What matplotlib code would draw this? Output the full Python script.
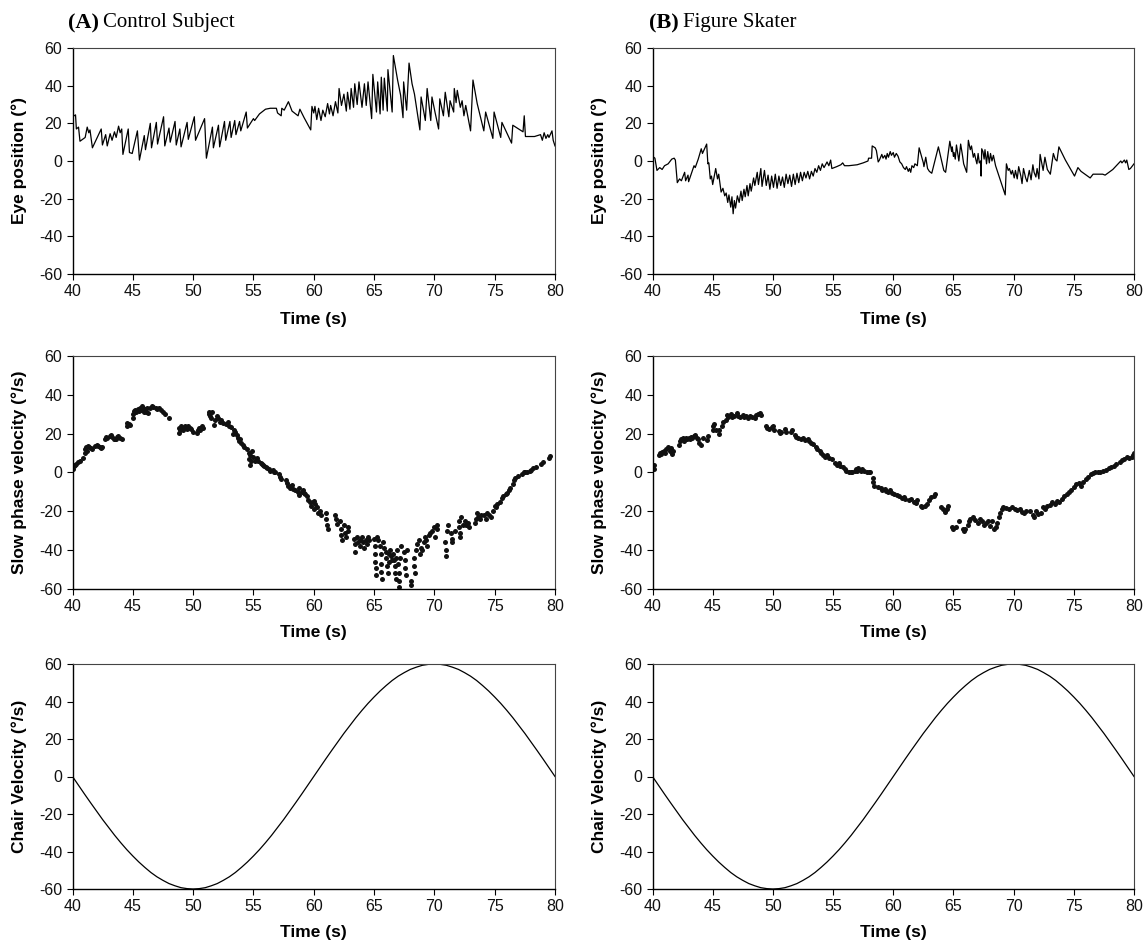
import matplotlib
matplotlib.use('Agg')
import matplotlib.pyplot as plt

plt.rcParams['font.family'] = ['Liberation Sans', 'DejaVu Sans']
plt.rcParams['axes.unicode_minus'] = False

# ---------------- data ----------------
x_ticks = [40, 45, 50, 55, 60, 65, 70, 75, 80]
y_ticks = [-60, -40, -20, 0, 20, 40, 60]

panel_titles = [("(A)", "Control Subject"), ("(B)", "Figure Skater")]
y_labels = ["Eye position (\u00b0)", "Slow phase velocity (\u00b0/s)", "Chair Velocity (\u00b0/s)"]
x_label = "Time (s)"

# Eye position, control subject (time s, degrees)
eye_a = [(40.0, 23.5), (40.25, 24.5), (40.32, 17), (40.5, 18), (40.62, 10.5), (41.05, 12.5),
         (41.22, 18), (41.35, 15), (41.45, 16.5), (41.65, 7), (42.38, 17), (42.48, 8.5),
         (42.75, 14), (42.88, 8), (43.12, 14.5), (43.28, 11), (43.48, 15.5), (43.62, 12.5),
         (43.82, 18.5), (43.95, 15), (44.08, 17), (44.18, 3.5), (44.62, 17), (44.72, 4.5),
         (44.95, 4), (45.38, 16), (45.55, 0.5), (45.95, 13.5), (46.05, 6), (46.45, 20),
         (46.55, 7), (46.95, 20.5), (47.05, 9), (47.55, 23.5), (47.65, 8), (48.0, 17.5),
         (48.1, 10), (48.5, 21), (48.6, 8.5), (48.9, 17), (49.0, 7.5), (49.5, 20.5),
         (49.6, 11.5), (50.1, 23.5), (50.2, 11), (50.95, 22.5), (51.1, 1.5), (51.6, 18),
         (51.68, 7), (52.1, 19), (52.2, 7.5), (52.6, 21), (52.7, 11), (53.05, 21),
         (53.15, 12.5), (53.45, 21.5), (53.55, 14), (53.85, 21), (53.95, 16), (54.4, 26),
         (54.5, 17.5), (55.0, 22.5), (55.1, 21.5), (55.5, 25), (56.0, 27.5), (56.4, 28),
         (56.9, 28), (57.0, 25.5), (57.3, 24), (57.35, 28), (57.55, 27), (57.9, 31.5),
         (58.2, 26.5), (58.5, 25), (58.7, 24), (58.85, 27.5), (59.2, 23), (59.75, 16.5),
         (59.85, 29), (60.0, 25.5), (60.1, 29), (60.25, 22), (60.4, 28), (60.6, 21.5),
         (60.75, 27), (60.95, 23.5), (61.15, 30.5), (61.3, 25), (61.4, 29.5), (61.6, 24),
         (61.8, 31.5), (62.0, 25.5), (62.1, 38.5), (62.3, 29.5), (62.5, 35.5), (62.7, 26.5),
         (62.8, 36.5), (63.0, 27.5), (63.1, 38.5), (63.3, 28.5), (63.4, 41), (63.6, 30),
         (63.75, 42), (64.0, 28.5), (64.2, 41), (64.35, 29.5), (64.5, 42), (64.8, 22.5),
         (64.9, 46), (65.2, 26), (65.3, 42), (65.5, 25), (65.6, 44.5), (65.75, 27),
         (65.85, 44), (66.1, 26.5), (66.15, 48.5), (66.5, 26), (66.6, 56), (66.95, 43),
         (67.2, 35), (67.4, 23), (67.45, 42), (67.7, 27), (67.9, 52), (68.15, 41),
         (68.35, 35.5), (68.8, 16.5), (68.9, 34), (69.25, 21.5), (69.4, 38.5), (69.7, 21.5),
         (69.8, 34), (70.05, 26), (70.35, 17), (70.45, 33), (70.75, 24), (70.9, 36.5),
         (71.2, 23.5), (71.3, 32), (71.6, 26), (71.65, 38.5), (71.8, 31), (71.9, 37.5),
         (72.15, 28.5), (72.3, 32), (72.45, 24), (72.6, 29.5), (73.0, 16), (73.2, 43),
         (73.55, 30.5), (74.1, 16), (74.25, 26), (74.85, 12), (74.95, 26), (75.5, 12.5),
         (75.6, 20.5), (76.4, 9.5), (76.5, 19), (77.35, 15.5), (77.45, 24), (77.55, 13),
         (78.3, 13), (78.8, 14), (78.95, 11), (79.1, 15), (79.25, 12), (79.4, 14),
         (79.5, 12.5), (79.75, 16), (79.85, 11), (80.0, 8)]

# Eye position, figure skater
eye_b = [(40.0, 2.5), (40.2, 1.5), (40.37, -5), (40.6, -3.5), (40.8, -4.5), (41.0, -2.5),
         (41.3, -1.5), (41.6, 1), (41.8, 1.5), (41.9, 0.5), (42.06, -11.5), (42.25, -9.5),
         (42.4, -10.5), (42.67, -6), (42.75, -10.5), (42.95, -7.5), (43.0, -11), (43.45, -2.5),
         (43.55, -3.5), (43.8, 1), (44.05, 6.5), (44.15, 4), (44.5, 9), (44.6, -1.5),
         (44.68, -1), (44.8, -9.5), (44.9, -8), (45.0, -12.5), (45.25, -4), (45.4, -9.5),
         (45.5, -7), (45.7, -16.5), (45.85, -14.5), (46.0, -18.5), (46.12, -17), (46.25, -22),
         (46.35, -18), (46.5, -24.5), (46.6, -19), (46.7, -28), (46.8, -21), (46.9, -25),
         (47.05, -18.5), (47.2, -22), (47.35, -16), (47.45, -21), (47.6, -15), (47.7, -19),
         (47.85, -13), (47.95, -18.5), (48.1, -12), (48.2, -16), (48.4, -9), (48.5, -13),
         (48.7, -6), (48.8, -12.5), (49.0, -4), (49.1, -13.5), (49.3, -5), (49.45, -13),
         (49.6, -7.5), (49.75, -15), (49.9, -8), (50.05, -14), (50.2, -7), (50.35, -14.5),
         (50.5, -8), (50.65, -13), (50.8, -8.5), (50.95, -14), (51.1, -7), (51.25, -12),
         (51.4, -7.5), (51.55, -13.5), (51.7, -7), (51.85, -12.5), (52.0, -6.5), (52.15, -11.5),
         (52.3, -6), (52.45, -10.5), (52.6, -6), (52.75, -9), (52.9, -5.5), (53.05, -9.5),
         (53.2, -5.5), (53.35, -8), (53.5, -4), (53.65, -6), (53.8, -2.5), (53.95, -5),
         (54.1, -1.5), (54.25, -3.5), (54.5, -0.5), (54.65, -2.5), (54.8, 0.5), (54.9, -4),
         (55.3, -3), (55.65, -2), (55.8, -1), (55.95, -2.5), (56.3, -2.5), (57.0, -2),
         (57.5, -1), (57.9, 0), (57.95, 1.5), (58.2, 1.5), (58.25, 8), (58.5, 7),
         (58.6, 5.5), (58.75, -0.5), (58.85, 0.5), (58.95, 2), (59.05, 3.5), (59.15, 1.5),
         (59.3, 3), (59.4, 1), (59.5, 4), (59.6, 2), (59.75, 5), (59.85, 3), (60.0, 4.5),
         (60.1, 2), (60.25, 4), (60.4, 2.5), (60.55, -0.5), (60.7, -1.5), (60.85, -3.5),
         (61.0, -4.5), (61.1, -3), (61.25, -5.5), (61.35, -4), (61.45, -6), (61.55, -2.5),
         (61.7, -3.5), (61.8, -1.5), (62.0, -2.5), (62.15, 7), (62.5, -1), (62.55, -3),
         (62.7, 2), (62.85, -4), (63.0, -5.5), (63.2, -6.5), (63.75, 7.5), (64.2, -5),
         (64.35, -6), (64.7, 10.5), (64.85, 5), (64.9, 7.5), (65.0, 2.5), (65.05, 4.5),
         (65.15, 1), (65.25, 8.5), (65.45, 0), (65.6, 9), (65.75, 3), (65.85, -1.5),
         (66.1, -6), (66.24, 11), (66.4, 6), (66.5, 8), (66.65, 2), (66.75, 4),
         (66.85, 1), (66.95, -1.5), (67.05, 4), (67.15, -1), (67.25, 0), (67.3, -8),
         (67.35, 6.5), (67.45, 5), (67.55, 1), (67.62, 6), (67.75, -1.5), (67.85, 5),
         (67.98, -1), (68.08, 4), (68.2, 0), (68.32, 3), (68.5, -2.5), (69.3, -18),
         (69.4, -1.5), (69.55, -5), (69.65, -4), (69.8, -7), (69.9, -5), (70.05, -9),
         (70.15, -5), (70.3, -9.5), (70.42, -3), (70.6, -8), (70.7, -12), (70.82, -4),
         (71.0, -9), (71.12, -11), (71.3, -5), (71.45, -10), (71.6, -2), (71.7, -6),
         (71.85, -8.5), (71.95, -4), (72.1, -9.5), (72.2, 3.5), (72.45, -5), (72.6, 2),
         (72.8, -4.5), (73.05, -7), (73.3, 4), (73.45, 1), (73.6, 0), (73.76, 7.5),
         (74.3, 0.5), (75.06, -8), (75.34, -3.5), (75.6, -5.5), (76.36, -9), (76.6, -7),
         (77.0, -7), (77.4, -7), (77.6, -7.5), (78.24, -4.5), (78.9, 0), (79.0, -1),
         (79.2, 0.5), (79.3, -1), (79.4, 0.5), (79.57, -4.5), (79.7, -4), (80.0, -1.5)]

# Slow phase velocity, control subject (time s, deg/s)
spv_a = [(40.0, 2), (40.1, 3.5), (40.2, 4), (40.3, 4.5), (40.45, 5.5), (40.6, 6), (40.9, 7.5),
         (41.0, 10), (41.05, 12), (41.1, 13), (41.2, 11), (41.3, 13.5), (41.4, 13), (41.55, 12.5),
         (41.65, 12), (41.9, 13.5), (42.0, 14), (42.1, 13.5), (42.25, 13), (42.35, 12.5),
         (42.45, 13), (42.7, 17.5), (42.8, 18.5), (42.9, 18), (43.1, 19), (43.2, 19.5),
         (43.3, 18.5), (43.4, 17.5), (43.5, 17), (43.6, 17.5), (43.7, 18.5), (43.8, 19),
         (43.9, 18), (44.1, 17), (44.5, 24), (44.55, 25.5), (44.65, 25), (44.75, 24.5),
         (45.0, 28), (45.05, 30), (45.1, 31.5), (45.2, 32), (45.3, 31), (45.4, 32.5),
         (45.5, 31.5), (45.6, 33), (45.7, 32), (45.8, 34.5), (45.85, 33), (45.95, 31),
         (46.0, 32.5), (46.1, 31), (46.2, 33), (46.3, 30.5), (46.4, 33), (46.6, 34),
         (46.7, 33.5), (46.9, 33), (47.0, 32.5), (47.2, 33), (47.35, 32), (47.5, 31),
         (47.7, 30), (48.0, 28), (48.8, 23), (48.85, 20.5), (48.9, 22), (49.0, 24),
         (49.1, 23), (49.2, 22), (49.3, 24), (49.4, 23), (49.5, 22.5), (49.6, 24),
         (49.7, 23), (49.85, 22.5), (50.0, 21), (50.3, 20.5), (50.4, 22), (50.5, 23),
         (50.6, 22), (50.7, 24), (50.8, 23), (51.3, 31), (51.35, 30), (51.4, 29), (51.5, 28),
         (51.55, 31), (51.7, 24.5), (51.8, 27), (52.0, 29), (52.1, 28), (52.2, 26),
         (52.3, 27), (52.45, 25.5), (52.7, 25), (52.9, 26), (53.0, 24), (53.1, 23.5),
         (53.3, 20), (53.4, 22), (53.5, 21), (53.6, 19.5), (53.7, 18), (53.8, 16),
         (53.9, 17), (54.0, 15), (54.1, 14), (54.2, 13), (54.5, 12), (54.6, 10), (54.65, 7),
         (54.7, 4), (54.75, 9), (54.8, 6), (54.9, 11), (55.0, 8), (55.1, 6), (55.3, 7.5),
         (55.4, 6), (55.6, 5), (55.7, 4.5), (55.8, 4), (55.9, 3.5), (56.0, 3), (56.1, 2.5),
         (56.3, 2), (56.4, 1), (56.6, 1.5), (56.7, 0), (56.8, 0.5), (57.1, -1), (57.2, -2.5),
         (57.3, -3.5), (57.7, -4), (57.8, -5.5), (57.9, -7), (58.0, -8), (58.1, -7),
         (58.2, -6.5), (58.3, -8.5), (58.45, -9), (58.7, -10), (58.75, -8), (58.8, -11.5),
         (59.0, -10), (59.1, -9), (59.2, -10.5), (59.3, -11), (59.45, -12), (59.5, -14),
         (59.7, -15), (59.8, -17), (59.9, -15), (60.0, -14.5), (60.05, -19), (60.1, -16),
         (60.3, -18), (60.35, -21), (60.5, -20), (60.6, -22), (61.0, -21), (61.05, -24),
         (61.1, -27), (61.15, -29), (61.8, -22), (61.85, -24), (61.9, -26.5), (62.2, -25),
         (62.25, -29), (62.3, -32), (62.35, -35), (62.5, -27), (62.6, -31), (62.7, -33),
         (62.8, -28), (62.85, -30), (63.35, -34), (63.4, -37), (63.45, -41), (63.6, -33),
         (63.65, -36), (63.8, -35), (63.85, -38), (64.0, -33), (64.1, -36), (64.15, -39),
         (64.3, -35), (64.4, -37), (64.5, -33), (64.55, -35), (65.0, -34), (65.05, -38),
         (65.1, -42), (65.1, -46), (65.15, -49), (65.15, -53), (65.25, -33), (65.3, -35),
         (65.5, -38), (65.55, -42), (65.6, -47), (65.6, -51), (65.65, -55), (65.7, -36),
         (65.8, -39), (65.95, -41), (66.0, -44), (66.1, -48), (66.15, -52), (66.2, -42),
         (66.25, -46), (66.3, -40), (66.4, -43), (66.45, -45), (66.6, -42), (66.65, -45),
         (66.7, -48), (66.75, -52), (66.8, -55), (66.85, -44), (66.9, -40), (67.0, -47),
         (67.05, -52), (67.05, -56), (67.1, -59), (67.15, -44), (67.2, -38), (67.5, -41),
         (67.55, -45), (67.6, -49), (67.65, -53), (67.7, -40), (68.05, -56), (68.05, -58),
         (68.3, -44), (68.35, -48), (68.4, -52), (68.5, -40), (68.6, -37), (68.7, -35),
         (68.8, -42), (68.9, -39), (69.0, -40), (69.1, -36), (69.2, -33), (69.3, -35),
         (69.4, -38), (69.55, -32), (69.6, -31), (69.8, -30), (70.0, -28), (70.05, -33),
         (70.2, -27), (70.25, -29), (70.9, -36), (70.95, -40), (71.0, -43), (71.05, -30),
         (71.1, -27), (71.4, -31), (71.45, -34), (71.5, -36), (71.7, -30), (72.0, -25),
         (72.05, -28), (72.1, -31), (72.15, -33), (72.2, -23), (72.35, -27), (72.5, -25),
         (72.6, -27), (72.8, -26), (72.9, -28), (73.4, -26), (73.45, -24), (73.5, -21),
         (73.6, -23), (73.8, -24), (73.9, -22), (74.1, -22), (74.3, -24), (74.4, -21),
         (74.5, -22), (74.7, -23), (74.9, -20), (75.0, -17), (75.1, -18), (75.2, -16),
         (75.4, -15), (75.6, -13), (75.7, -12), (75.9, -11), (76.0, -10.5), (76.2, -9),
         (76.3, -8), (76.5, -6), (76.6, -4), (76.7, -3), (76.9, -2), (77.3, -1), (77.4, 0),
         (77.5, 0.5), (77.7, 0), (77.9, 1), (78.0, 1.5), (78.2, 2.5), (78.4, 3), (78.8, 4.5),
         (79.0, 5.5), (79.5, 7.5), (79.55, 8.5)]

# Slow phase velocity, figure skater
spv_b = [(40.05, 2.5), (40.1, 4), (40.15, 2), (40.5, 9), (40.6, 10), (40.7, 9.5), (40.8, 10.5),
         (40.95, 11), (41.05, 10), (41.15, 12), (41.3, 13), (41.45, 11), (41.55, 12.5),
         (41.65, 9.5), (41.7, 11), (42.2, 14), (42.25, 16), (42.4, 17.5), (42.5, 18),
         (42.6, 16), (42.7, 17.5), (42.8, 18), (42.9, 17), (43.0, 18), (43.1, 17.5),
         (43.2, 18.5), (43.3, 18), (43.45, 19), (43.55, 19.5), (43.7, 18), (43.8, 17),
         (43.9, 15), (44.0, 14), (44.2, 18), (44.55, 16.5), (44.6, 19), (45.0, 22),
         (45.05, 24), (45.1, 25), (45.25, 22), (45.5, 20), (45.55, 22), (45.8, 24),
         (45.85, 26), (46.1, 27), (46.2, 29.5), (46.3, 28.5), (46.5, 30), (46.6, 28.5),
         (46.8, 29), (47.0, 30.5), (47.1, 29), (47.3, 28.5), (47.5, 29.5), (47.6, 28.5),
         (47.8, 29), (47.9, 28), (48.1, 29), (48.3, 28.5), (48.5, 28), (48.6, 29.5),
         (48.8, 30), (48.9, 30.5), (49.0, 29.5), (49.4, 24), (49.5, 23), (49.7, 22.5),
         (49.9, 23.5), (50.0, 24), (50.1, 22), (50.5, 21.5), (50.6, 20.5), (50.7, 21),
         (51.0, 22.5), (51.1, 21), (51.5, 21), (51.6, 22), (51.8, 19.5), (51.9, 18.5),
         (52.1, 18), (52.3, 17.5), (52.5, 18), (52.7, 16.5), (52.9, 17), (53.0, 16),
         (53.2, 15), (53.3, 14.5), (53.6, 13), (53.7, 12), (53.9, 11), (54.0, 10),
         (54.2, 9), (54.3, 8), (54.5, 9), (54.7, 7.5), (54.9, 7), (55.2, 5), (55.3, 4),
         (55.5, 5), (55.6, 3.5), (55.8, 3), (56.0, 2), (56.1, 1), (56.3, 0.5), (56.5, 0),
         (56.6, 0.5), (56.8, 1), (56.9, 2), (57.0, 1), (57.1, 2.5), (57.3, 1), (57.4, 2),
         (57.6, 1), (57.8, 0.5), (58.0, 0), (58.1, 0), (58.3, -3), (58.35, -5), (58.4, -7),
         (58.7, -7.5), (59.0, -8), (59.1, -9), (59.3, -8.5), (59.4, -9.5), (59.6, -10),
         (59.7, -9), (59.9, -10.5), (60.1, -11), (60.3, -11.5), (60.5, -12), (60.7, -13),
         (60.9, -12.5), (61.0, -13.5), (61.3, -14), (61.5, -13.5), (61.7, -15), (61.9, -15.5),
         (62.0, -14), (62.3, -17), (62.4, -18), (62.6, -17.5), (62.8, -16), (63.0, -14),
         (63.1, -12.5), (63.4, -12), (63.5, -11), (64.0, -18), (64.1, -19), (64.3, -20.5),
         (64.5, -19), (64.55, -17), (64.9, -28), (65.0, -29), (65.2, -28), (65.5, -25),
         (65.8, -29), (65.9, -30), (66.0, -29), (66.2, -27), (66.3, -25), (66.4, -24),
         (66.6, -23), (66.8, -24.5), (67.0, -26), (67.2, -24), (67.4, -25), (67.5, -27),
         (67.7, -26), (67.9, -25), (68.0, -27.5), (68.2, -25), (68.4, -29), (68.5, -28),
         (68.6, -26), (68.8, -23), (68.9, -21), (69.0, -19), (69.1, -18), (69.4, -18.5),
         (69.6, -19), (69.9, -18), (70.1, -19), (70.3, -19.5), (70.5, -19), (70.7, -20.5),
         (70.9, -21), (71.0, -20), (71.4, -20), (71.6, -22), (71.7, -23), (71.9, -20),
         (72.0, -21.5), (72.3, -21), (72.4, -18), (72.6, -19), (72.8, -17), (73.0, -16.5),
         (73.2, -15), (73.4, -16), (73.6, -14.5), (73.8, -15), (74.0, -13.5), (74.2, -12),
         (74.4, -11), (74.6, -10), (74.8, -9), (75.0, -7.5), (75.2, -6), (75.4, -5.5),
         (75.6, -7), (75.8, -5), (76.0, -3.5), (76.2, -2.5), (76.4, -1), (76.6, -0.5),
         (76.8, 0), (77.0, 0), (77.2, 0.5), (77.4, 1), (77.7, 1.5), (77.9, 2.5), (78.1, 3),
         (78.3, 3.5), (78.5, 4.5), (78.8, 5.5), (79.0, 6.5), (79.2, 7), (79.4, 8), (79.6, 7.5),
         (79.8, 8), (79.9, 9), (80.0, 10)]

# Chair velocity (same stimulus for both), sampled every 0.5 s from 40 s to 80 s
chair_t = [40 + 0.5 * i for i in range(81)]
chair_v = [0, -4.7, -9.4, -14.0, -18.5, -23.0, -27.2, -31.4, -35.3, -39.0,
           -42.4, -45.6, -48.5, -51.2, -53.5, -55.4, -57.1, -58.3, -59.3, -59.8,
           -60, -59.8, -59.3, -58.3, -57.1, -55.4, -53.5, -51.2, -48.5, -45.6,
           -42.4, -39.0, -35.3, -31.4, -27.2, -23.0, -18.5, -14.0, -9.4, -4.7,
           0, 4.7, 9.4, 14.0, 18.5, 23.0, 27.2, 31.4, 35.3, 39.0,
           42.4, 45.6, 48.5, 51.2, 53.5, 55.4, 57.1, 58.3, 59.3, 59.8,
           60, 59.8, 59.3, 58.3, 57.1, 55.4, 53.5, 51.2, 48.5, 45.6,
           42.4, 39.0, 35.3, 31.4, 27.2, 23.0, 18.5, 14.0, 9.4, 4.7, 0]

# ---------------- layout ----------------
W, H = 1145, 942
fig = plt.figure(figsize=(W / 100, H / 100), dpi=100)

cols = [(72.5, 482.5), (652.5, 481.5)]          # left px, width px
rows = [(48, 274), (356, 589), (664, 889)]      # top px, bottom px
xlabel_off = [46, 43, 43]


def make_ax(c, r):
    x0, w = cols[c]
    top, bot = rows[r]
    h = bot - top
    ax = fig.add_axes([x0 / W, 1 - bot / H, w / W, h / H])
    ax.set_xlim(40, 80)
    ax.set_ylim(-60, 60)
    ax.set_xticks(x_ticks)
    ax.set_yticks(y_ticks)
    ax.tick_params(direction='out', length=4, width=0.8, labelsize=11.5, pad=3.5,
                   top=False, right=False, colors='black', labelcolor='#111111')
    for s in ['left', 'bottom']:
        ax.spines[s].set_linewidth(1.0)
        ax.spines[s].set_color('black')
    for s in ['top', 'right']:
        ax.spines[s].set_linewidth(0.8)
        ax.spines[s].set_color('#444444')
    ax.set_xlabel(x_label, fontsize=12.5, fontweight='bold')
    ax.xaxis.label.set_va('center')
    ax.xaxis.set_label_coords(0.5, -xlabel_off[r] / h)
    ax.set_ylabel(y_labels[r], fontsize=12.5, fontweight='bold')
    ax.yaxis.label.set_va('center')
    ax.yaxis.set_label_coords(-53.5 / w, 0.5)
    return ax


eyes = [eye_a, eye_b]
spvs = [spv_a, spv_b]
for c in range(2):
    ax = make_ax(c, 0)
    t, v = zip(*eyes[c])
    ax.plot(t, v, color='black', lw=0.9)

    ax = make_ax(c, 1)
    t, v = zip(*spvs[c])
    ax.plot(t, v, linestyle='none', marker='o', markersize=3.6, color='#111111',
            markeredgewidth=0)

    ax = make_ax(c, 2)
    ax.plot(chair_t, chair_v, color='black', lw=0.9)

# panel titles
fig.canvas.draw()
renderer = fig.canvas.get_renderer()
title_x = [68, 649]
for c in range(2):
    lab, name = panel_titles[c]
    t1 = fig.text(title_x[c] / W, 1 - 23 / H, lab, fontsize=16, fontweight='bold',
                  family=['Liberation Serif', 'DejaVu Serif'], va='center', ha='left')
    bb = t1.get_window_extent(renderer)
    fig.text((bb.x1 + 4) / W, 1 - 23 / H, name, fontsize=15,
             family=['Liberation Serif', 'DejaVu Serif'], va='center', ha='left')

fig.savefig('out.png', dpi=100, facecolor='white')
